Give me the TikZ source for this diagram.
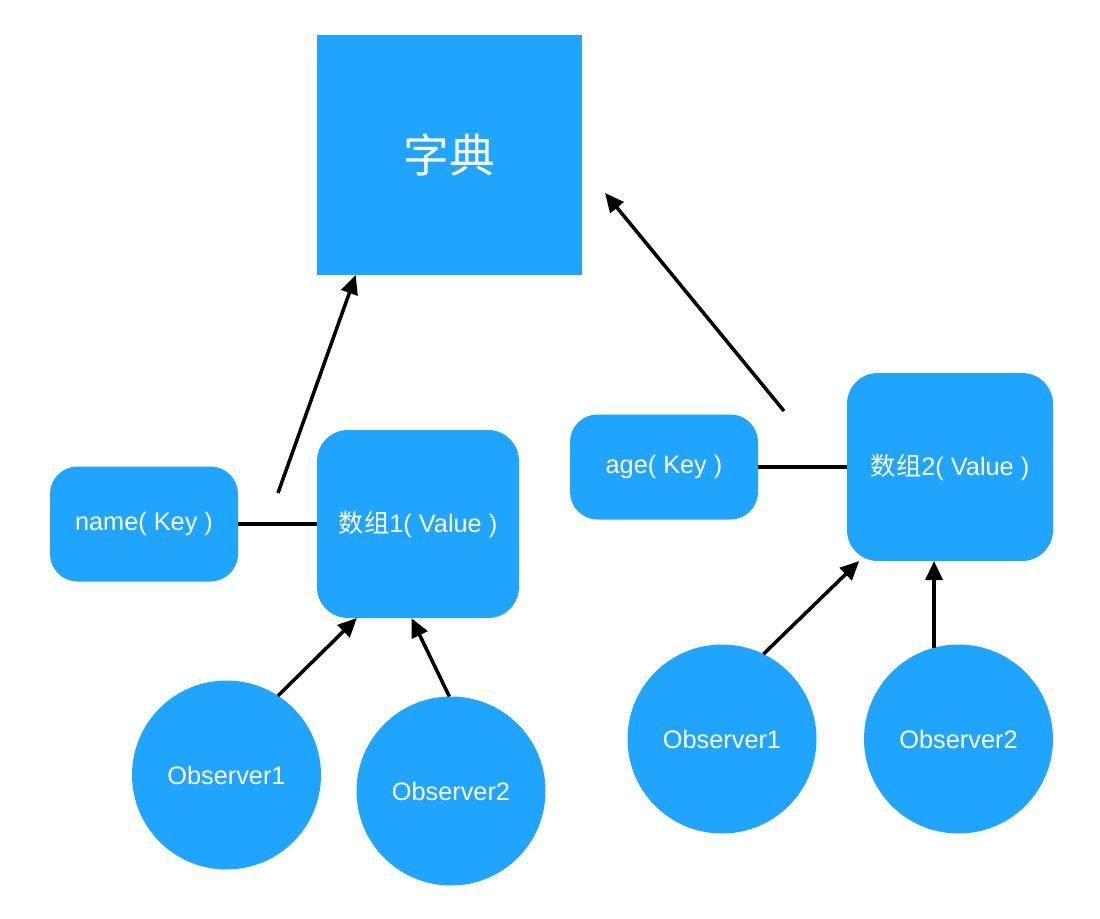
\documentclass[tikz,border=0pt]{standalone}
\usepackage{fontspec}
\setmainfont{Liberation Sans}
\newfontfamily\cjk{Noto Sans CJK SC}
\usepackage{tikz}
\usetikzlibrary{positioning}
\usetikzlibrary{calc,arrows.meta}
\definecolor{boxblue}{RGB}{31,165,254}

\tikzset{
	box/.style={fill=boxblue, text=white, inner sep=0pt, outer sep=0pt, font=\fontsize{14.4}{17}\selectfont},
	keybox/.style={box, rounded corners=0.55cm, minimum width=3.76cm},
	valbox/.style={box, rounded corners=0.62cm, minimum height=3.76cm},
	observer/.style={box, circle, minimum size=3.78cm},
	link/.style={line width=2pt},
	pointer/.style={line width=2pt, -{Triangle[length=0.38cm,width=0.34cm]}},
}

\begin{document}
\begin{tikzpicture}

	% ---------------------
	% Canvas
	\fill[white] (0,0) rectangle (22.00,-18.36);
	\useasboundingbox (0,0) rectangle (22.00,-18.36);

	% ---------------------
	% Anchor points
	\coordinate (DictC) at (8.99,-3.10);

	\coordinate (ArrOneC) at (8.36,-10.48);
	\path (ArrOneC) +(-5.48,0.00) coordinate (NameC);
	\path (ArrOneC) +(-3.83,-5.02) coordinate (ObsOneLC);
	\path (ArrOneC) +(0.66,-5.34) coordinate (ObsTwoLC);

	\coordinate (ArrTwoC) at (19.00,-9.34);
	\path (ArrTwoC) +(-5.72,0.00) coordinate (AgeC);
	\path (ArrTwoC) +(-4.56,-5.44) coordinate (ObsOneRC);
	\path (ArrTwoC) +(0.17,-5.44) coordinate (ObsTwoRC);

	% free ends of the pointers to the dictionary
	\coordinate (NameUp) at (5.56,-9.86);
	\coordinate (AgeUp) at (15.68,-8.22);
	\coordinate (AgeTip) at (12.10,-3.86);

	% ------------------------------------------------
	% Boxes
	\node[box, minimum width=5.30cm, minimum height=4.80cm, font=\fontsize{26}{30}\selectfont] (Dict) at (DictC) {\cjk 字典};

	\node[keybox, minimum height=2.30cm] (NameKey) at (NameC) {name( Key )};
	\node[valbox, minimum width=4.04cm] (ArrOne) at (ArrOneC) {{\cjk 数组}1( Value )};

	\node[keybox, minimum height=2.10cm] (AgeKey) at (AgeC) {age( Key )};
	\node[valbox, minimum width=4.12cm] (ArrTwo) at (ArrTwoC) {{\cjk 数组}2( Value )};

	\node[observer] (ObsOneL) at (ObsOneLC) {Observer1};
	\node[observer] (ObsTwoL) at (ObsTwoLC) {Observer2};
	\node[observer] (ObsOneR) at (ObsOneRC) {Observer1};
	\node[observer] (ObsTwoR) at (ObsTwoRC) {Observer2};

	% ------------------------------------------------
	% Connectors
	\draw[link] (NameKey.east) -- (NameKey.east -| ArrOne.west);
	\draw[link] (AgeKey.east) -- (AgeKey.east -| ArrTwo.west);

	\draw[pointer] (NameUp) -- (Dict.232);
	\draw[pointer] (AgeUp) -- (AgeTip);

	\draw[pointer] (ObsOneL.57) -- (ArrOne.237);
	\draw[pointer] (ObsTwoL.91) -- (ArrOne.266);
	\draw[pointer] (ObsOneR.64) -- (ArrTwo.226);
	\draw[pointer] (ObsTwoR.105) -- (ObsTwoR.105 |- ArrTwo.south);

\end{tikzpicture}
\end{document}
